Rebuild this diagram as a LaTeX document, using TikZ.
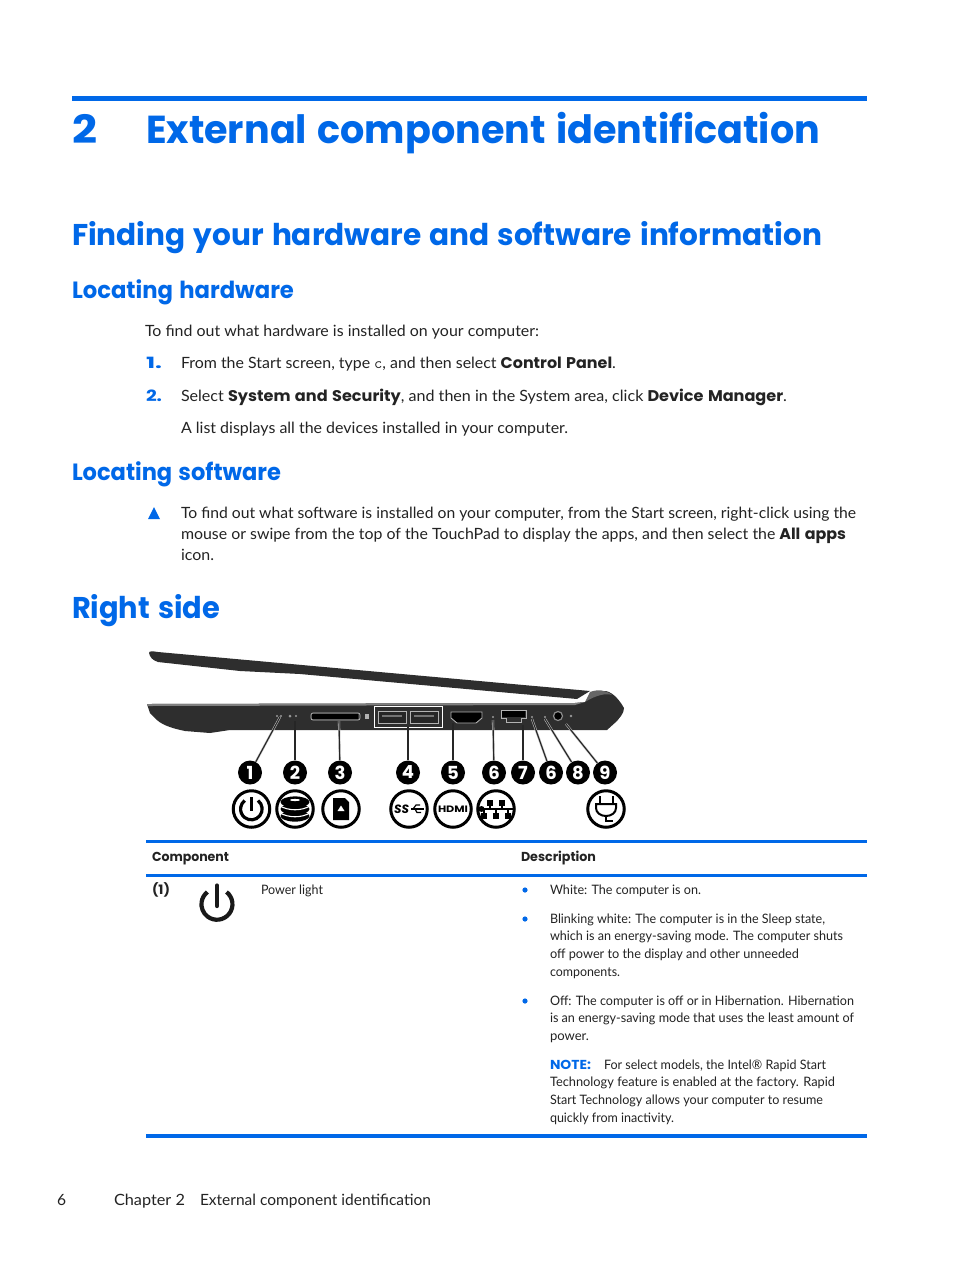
\documentclass[tikz,border=0pt]{standalone}
\usepackage{fontspec}
\setmainfont{Lato}
\newfontfamily\hd[BoldFont={Poppins Bold},WordSpace=1.3]{Poppins}
\usetikzlibrary{calc}
\definecolor{hpblue}{RGB}{0,104,232}
\definecolor{bodyc}{RGB}{35,35,35}
\newcounter{tn}
\newcommand{\hb}[1]{{\hd\bfseries #1}}
% [style]{x}{y}{target width}{text}
\newcommand{\tl}[5][plain]{\stepcounter{tn}\node[tline,#1] (t\thetn) at (#2,#3) {\resizebox{#4pt}{\height}{#5}};}
\tikzset{
 x=1pt,y=-1pt,
 tline/.style={inner sep=0pt,outer sep=0pt,anchor=base west,text=bodyc},
 plain/.style={font=\fontsize{15.5}{18}\selectfont},
 small/.style={font=\fontsize{13}{16}\selectfont},
 hone/.style={font=\fontsize{39}{44}\hd\bfseries,text=hpblue},
 htwo/.style={font=\fontsize{30}{36}\hd\bfseries,text=hpblue},
 hthree/.style={font=\fontsize{23.5}{28}\hd\bfseries,text=hpblue},
 blu/.style={text=hpblue},
 callout/.style={circle,fill=black,minimum size=24pt,inner sep=0pt,text=white,font=\fontsize{18}{18}\hd\bfseries},
 iconring/.style={circle,draw=black,line width=3pt,minimum size=36.5pt,inner sep=0pt,fill=white},
 leader/.style={draw=black!85,line width=1.1pt,preaction={draw=white!75!black,line width=2.2pt}},
 rulea/.style={fill=hpblue},
}
\begin{document}
\begin{tikzpicture}
\useasboundingbox (0,0) rectangle (954,1270);
\fill[white] (0,0) rectangle (954,1270);
% rules
\fill[rulea] (72,96) rectangle (867,100.5);
\fill[rulea] (146,840) rectangle (867,843);
\fill[rulea] (146,874) rectangle (867,876.5);
\fill[rulea] (146,1134) rectangle (867,1138);
% headings
\tl[hone]{72}{143.5}{25}{2}
\tl[hone]{146}{143.5}{674}{External component identification}
\tl[htwo]{72}{245}{750}{Finding your hardware and software information}
\tl[hthree]{72}{298}{222}{Locating hardware}
\tl[hthree]{72}{480}{209}{Locating software}
\tl[htwo]{72}{618}{148}{Right side}
% body
\tl{145}{336}{394}{To find out what hardware is installed on your computer:}
\tl[plain,blu]{146}{368}{16}{\hb{1.}}
\tl{181}{368}{435}{From the Start screen, type {\ttfamily c}, and then select \hb{Control Panel}.}
\tl[plain,blu]{146}{401}{16}{\hb{2.}}
\tl{181}{401}{606}{Select \hb{System and Security}, and then in the System area, click \hb{Device Manager}.}
\tl{181}{433}{387}{A list displays all the devices installed in your computer.}
\fill[hpblue] (148,519) -- (160,519) -- (154,507) -- cycle;
\tl{181}{518}{675}{To find out what software is installed on your computer, from the Start screen, right-click using the}
\tl{181}{539}{665}{mouse or swipe from the top of the TouchPad to display the apps, and then select the \hb{All apps}}
\tl{181}{560}{33}{icon.}
% laptop
\fill[black!82] (149,653) .. controls (149,651) and (152,651) .. (158,652) -- (590,691) -- (577,699) -- (300,674) -- (240,671) -- (158,662) .. controls (152,660) and (150,657) .. (149,653) -- cycle;
\fill[black!82] (147,704) -- (575,703) -- (585,702) .. controls (592,694) and (600,690) .. (606,691) .. controls (614,693) and (620,701) .. (624,708) .. controls (624,714) and (619,718) .. (617,721) -- (607,730) -- (230,730) -- (210,733) -- (185,731) .. controls (170,728) and (160,724) .. (155,718) -- (150,713) -- cycle;
\fill[black!50] (147,704) -- (575,703) -- (585,702) -- (575,705) -- (148,706) -- cycle;
\fill[black!60] (590,692) .. controls (598,689) and (606,690) .. (612,695) .. controls (606,693) and (596,695) .. (585,702) -- cycle;
% ports
\fill[black] (312,714) rectangle (358,719);
\draw[white!75!black,line width=.7pt,rounded corners=2pt] (311,713) rectangle (360,720);
\fill[white!70!black] (365,714) rectangle (369,719);
\node[draw=white,line width=1.6pt,minimum width=68pt,minimum height=21pt,inner sep=0pt] (usbframe) at (408.5,717) {};
\foreach \nm/\cx in {usba/392,usbb/424}{
 \node[draw=white!70!black,fill=black!85,line width=.8pt,minimum width=28pt,minimum height=12pt,inner sep=0pt] (\nm) at (\cx,717) {};
 \fill[white!45!black] ($(\nm.center)+(-10,-2.5)$) rectangle ($(\nm.center)+(10,-.5)$);
}
\draw[white!70!black,line width=.9pt,fill=black] (451,712) -- (482,712) -- (482,718) -- (476,723) -- (457,723) -- (451,718) -- cycle;
\fill[white!60!black] (493,717) circle (1.2pt) (532,717) circle (1.2pt) (545,717) circle (1.2pt) (571,716) circle (1.4pt) (277,716) circle (1.2pt) (281,716) circle (1.2pt) (290,716) circle (1.5pt) (296,716) circle (1.2pt);
\draw[white!70!black,line width=.9pt] (501,710) -- (501,718) -- (506,718) -- (506,722) -- (521,722) -- (521,718) -- (526,718) -- (526,710) -- cycle;
\fill[black] (502,711) rectangle (525,717);
\node[circle,fill=black,draw=white!55!black,line width=1.2pt,minimum size=9pt,inner sep=0pt] (jack) at (558,716) {};
% callouts
\foreach \nm/\cx/\lab in {ca/250/1,cb/295/2,cc/340/3,cd/408/4,ce/453/5,cf/494/6,cg/523/7,ch/551/6,ci/578/8,cj/605/9}{
 \node[callout] (\nm) at (\cx,772.5) {\lab};
}
\coordinate (pa) at (280,717);
\coordinate (pb) at (295,721);
\coordinate (pc) at (339,721);
\coordinate (pd) at (408,727);
\coordinate (pe) at (453,723);
\coordinate (pf) at (493,720);
\coordinate (pg) at (523,725);
\coordinate (ph) at (532,719);
\coordinate (pi) at (545,719);
\coordinate (pj) at (566,724);
\foreach \a/\b in {pa/ca,pb/cb,pc/cc,pd/cd,pe/ce,pf/cf,pg/cg,ph/ch,pi/ci,pj/cj}{
 \draw[leader] (\a) -- (\b);
}
% icon rings
\foreach \nm/\cx in {ia/251.5,ib/295,ic/341,id/409,ie/453,if/496,ig/606}{
 \node[iconring] (\nm) at (\cx,809) {};
}
% power icon
\draw[line width=3.2pt] (ia.center) ++(6.5,-8.5) arc[start angle=52,end angle=-232,radius=10.8pt];
\draw[line width=3.2pt] ($(ia.center)+(0,-12)$) -- ($(ia.center)+(0,2)$);
% storage
\foreach \dy in {-7,0,7}{
 \fill[black] ($(ib.center)+(0,\dy)$) ellipse[x radius=14.5pt,y radius=5.6pt];
}
\fill[white] ($(ib.center)+(0,-9)$) ellipse[x radius=5pt,y radius=1.1pt];
\draw[white,line width=1.1pt] ($(ib.center)+(-15,-3)$) .. controls ($(ib.center)+(-6,2)$) and ($(ib.center)+(6,2)$) .. ($(ib.center)+(15,-3)$);
\draw[white,line width=1.1pt] ($(ib.center)+(-15,4)$) .. controls ($(ib.center)+(-6,9)$) and ($(ib.center)+(6,9)$) .. ($(ib.center)+(15,4)$);
% sd card
\fill[black] ($(ic.center)+(-8,-11)$) -- ($(ic.center)+(4,-11)$) -- ($(ic.center)+(8,-7)$) -- ($(ic.center)+(8,11)$) -- ($(ic.center)+(-8,11)$) -- cycle;
\fill[white] ($(ic.center)+(-3.5,2)$) -- ($(ic.center)+(3.5,2)$) -- ($(ic.center)+(0,-3.5)$) -- cycle;
% SS usb
\node[inner sep=0pt,font=\fontsize{12}{12}\hd\bfseries\itshape] (sslab) at ($(id.center)+(-7.5,0)$) {SS};
\draw[line width=1.5pt] ($(id.center)+(2,0)$) -- ($(id.center)+(15,0)$);
\draw[line width=1.2pt] ($(id.center)+(4,0)$) -- ($(id.center)+(7,-4)$) -- ($(id.center)+(11,-4)$);
\draw[line width=1.2pt] ($(id.center)+(6,0)$) -- ($(id.center)+(8,3.5)$) -- ($(id.center)+(12,3.5)$);
% hdmi
\node[inner sep=0pt,font=\fontsize{11.5}{11.5}\hd\bfseries] (hdmilab) at (ie.center) {\resizebox{30pt}{6.5pt}{HDMI}};
% network
\foreach \dx/\dy in {-6/-6.5,6/-6.5,-12/6.5,0/6.5,12/6.5}{
 \fill[black] ($(if.center)+(\dx-3,\dy-3)$) rectangle ($(if.center)+(\dx+3,\dy+3)$);
}
\draw[line width=1.6pt] ($(if.center)+(-17,0)$) -- ($(if.center)+(17,0)$);
\fill[black] ($(if.center)+(-14.5,0)$) circle (3pt);
\draw[line width=1.5pt] ($(if.center)+(-6,-6)$) -- ($(if.center)+(-6,0)$) ($(if.center)+(6,-6)$) -- ($(if.center)+(6,0)$) ($(if.center)+(-12,0)$) -- ($(if.center)+(-12,6)$) ($(if.center)+(0,0)$) -- ($(if.center)+(0,6)$) ($(if.center)+(12,0)$) -- ($(if.center)+(12,6)$);
% plug
\draw[line width=2pt] ($(ig.center)+(-10,-5)$) -- ($(ig.center)+(10,-5)$) -- ($(ig.center)+(10,-1)$) .. controls ($(ig.center)+(10,4)$) and ($(ig.center)+(5,7)$) .. ($(ig.center)+(0,7)$) .. controls ($(ig.center)+(-5,7)$) and ($(ig.center)+(-10,4)$) .. ($(ig.center)+(-10,-1)$) -- cycle;
\draw[line width=2pt] ($(ig.center)+(-6.5,-5)$) -- ($(ig.center)+(-6.5,-13)$) ($(ig.center)+(6.5,-5)$) -- ($(ig.center)+(6.5,-13)$);
\draw[line width=1.6pt] ($(ig.center)+(0,7)$) -- ($(ig.center)+(0,12)$) -- ($(ig.center)+(7,12)$);
% table
\tl[small]{152}{861}{77}{\hb{Component}}
\tl[small]{521}{861}{75}{\hb{Description}}
\tl[small]{152}{894}{18}{\hb{(1)}}
\tl[small]{261}{894}{62}{Power light}
\draw[black!90,line width=4.2pt,line cap=round] (217,885.5) -- (217,906);
\draw[black!90,line width=4.2pt] (226.5,892) arc[start angle=52,end angle=-232,radius=15.5pt];
\foreach \yy in {890,919,1001}{
 \fill[hpblue] (525,\yy) circle (2.6pt);
}
\tl[small]{550}{894}{151}{White: The computer is on.}
\tl[small]{550}{923}{275}{Blinking white: The computer is in the Sleep state,}
\tl[small]{550}{940}{293}{which is an energy-saving mode. The computer shuts}
\tl[small]{550}{958}{249}{off power to the display and other unneeded}
\tl[small]{550}{976}{70}{components.}
\tl[small]{550}{1005}{304}{Off: The computer is off or in Hibernation. Hibernation}
\tl[small]{550}{1022}{304}{is an energy-saving mode that uses the least amount of}
\tl[small]{550}{1040}{39}{power.}
\tl[small,blu]{550}{1069}{41}{\hb{NOTE:}}
\tl[small]{604}{1069}{222}{For select models, the Intel® Rapid Start}
\tl[small]{550}{1086}{285}{Technology feature is enabled at the factory. Rapid}
\tl[small]{550}{1104}{273}{Start Technology allows your computer to resume}
\tl[small]{550}{1122}{124}{quickly from inactivity.}
% footer
\tl{57}{1205}{9}{6}
\tl{114}{1205}{71}{Chapter 2}
\tl{200}{1205}{231}{External component identification}
\end{tikzpicture}
\end{document}
